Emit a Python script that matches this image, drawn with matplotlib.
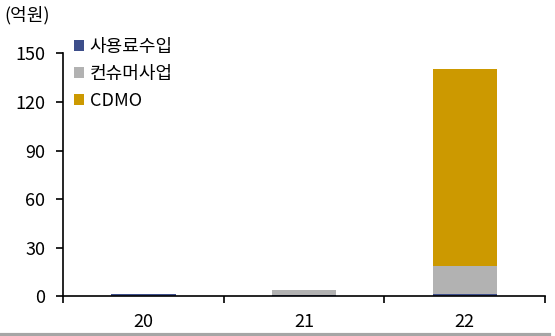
import matplotlib
matplotlib.use("Agg")
import matplotlib.pyplot as plt
from matplotlib.lines import Line2D
import numpy as np

plt.rcParams['font.family'] = ['Noto Sans CJK KR', 'DejaVu Sans']

categories = ['20', '21', '22']
royalty = [1.5, 1.0, 1.5]       # 사용료수입
consumer = [0.0, 2.8, 17.5]     # 컨슈머사업
cdmo = [0.0, 0.0, 121.5]        # CDMO
series_names = ['사용료수입', '컨슈머사업', 'CDMO']
colors = ['#3D4E8A', '#B2B2B2', '#CC9900']
yticks = [0, 30, 60, 90, 120, 150]

fig = plt.figure(figsize=(5.55, 3.36), dpi=100)
ax = fig.add_axes([0.114, 0.118, 0.868, 0.723])

x = np.arange(len(categories))
w = 0.4
ax.bar(x, royalty, w, color=colors[0], label=series_names[0])
ax.bar(x, consumer, w, bottom=royalty, color=colors[1], label=series_names[1])
bottom2 = np.array(royalty) + np.array(consumer)
ax.bar(x, cdmo, w, bottom=bottom2, color=colors[2], label=series_names[2])

ax.set_xlim(-0.5, 2.5)
ax.set_ylim(0, 150)
ax.set_yticks(yticks)
ax.set_xticks(x)
ax.set_xticklabels(categories)
ax.set_xticks([-0.5, 0.5, 1.5, 2.5], minor=True)
ax.tick_params(axis='x', which='major', length=0, pad=12, labelsize=13)
ax.tick_params(axis='x', which='minor', length=5, width=1.2, direction='out')
ax.tick_params(axis='y', length=5, width=1.2, direction='out', labelsize=13, pad=8)
for s in ['top', 'right']:
    ax.spines[s].set_visible(False)
for s in ['left', 'bottom']:
    ax.spines[s].set_linewidth(1.2)
    ax.spines[s].set_color('black')

leg = ax.legend(loc='upper left', bbox_to_anchor=(0.008, 1.094), frameon=False,
                fontsize=13, handlelength=0.55, handleheight=0.55,
                handletextpad=0.3, labelspacing=0.5, borderaxespad=0)

fig.text(0.008, 0.955, '(억원)', fontsize=13, ha='left', va='center')

fig.add_artist(Line2D([0, 0.99], [0.004, 0.004], color='#A6A6A6', lw=3,
                      transform=fig.transFigure))

fig.savefig('out.png', dpi=100)
